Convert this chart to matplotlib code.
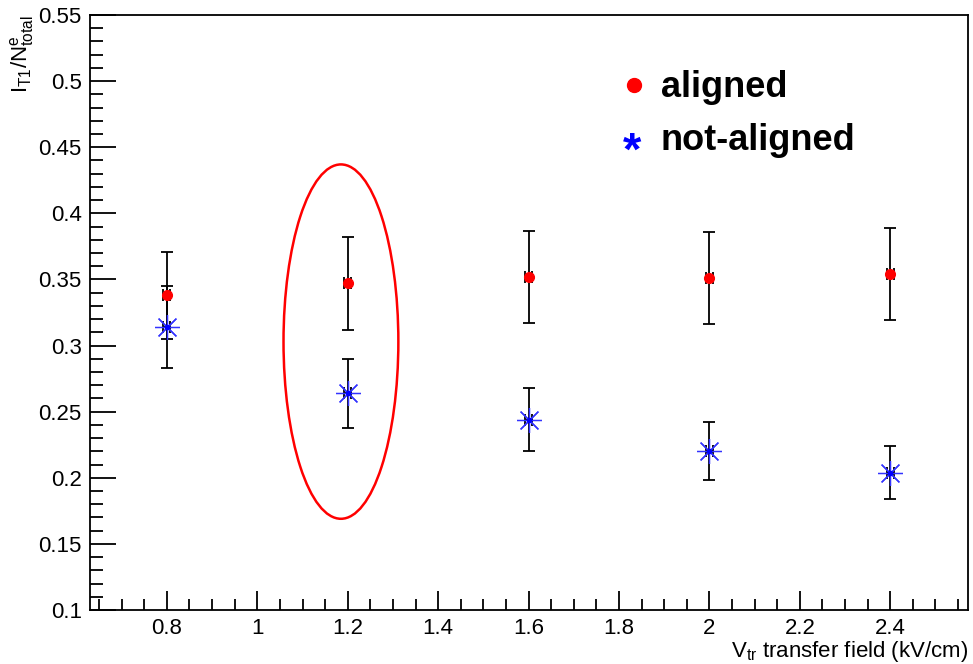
import matplotlib
matplotlib.use('Agg')
import matplotlib.pyplot as plt
import matplotlib.patches as patches
from matplotlib.ticker import MultipleLocator

plt.rcParams['font.family'] = ['Liberation Sans', 'DejaVu Sans']
plt.rcParams['mathtext.fontset'] = 'custom'
plt.rcParams['mathtext.rm'] = 'Liberation Sans'
plt.rcParams['mathtext.it'] = 'Liberation Sans'

# Data
field = [0.8, 1.2, 1.6, 2.0, 2.4]
aligned = [0.338, 0.347, 0.352, 0.351, 0.354]
aligned_err = [0.033, 0.035, 0.035, 0.035, 0.035]
not_aligned = [0.314, 0.264, 0.244, 0.220, 0.204]
not_aligned_err = [0.031, 0.026, 0.024, 0.022, 0.020]
field_err = [0.008] * 5

fig = plt.figure(figsize=(9.73, 6.64), dpi=100)
ax = fig.add_axes([0.0925, 0.0813, 0.9024, 0.8961])

# Error bars (black), then markers
ax.errorbar(field, aligned, yerr=aligned_err, xerr=field_err, fmt='none',
            ecolor='black', elinewidth=1.3, capsize=4, capthick=1.3, zorder=2)
ax.errorbar(field, not_aligned, yerr=not_aligned_err, xerr=field_err, fmt='none',
            ecolor='black', elinewidth=1.3, capsize=4, capthick=1.3, zorder=2)
ax.plot(field, aligned, 'o', color='red', markersize=7, zorder=3)
ax.plot(field, not_aligned, marker=(8, 2, 0), linestyle='none', color='#3333ff',
        markersize=18, markeredgewidth=0.9, zorder=3)
ax.plot(field, not_aligned, 'o', color='blue', markersize=3, zorder=4)

# Red ellipse highlighting the 1.2 kV/cm point
ell = patches.Ellipse((1.185, 0.303), 0.254, 0.268, fill=False,
                      edgecolor='red', linewidth=1.8, zorder=5)
ax.add_patch(ell)

ax.set_xlim(0.63, 2.572)
ax.set_ylim(0.1, 0.55)

ax.xaxis.set_major_locator(MultipleLocator(0.2))
ax.xaxis.set_minor_locator(MultipleLocator(0.05))
ax.yaxis.set_major_locator(MultipleLocator(0.05))
ax.yaxis.set_minor_locator(MultipleLocator(0.01))

def fmt(v, pos):
    return ('%.2f' % v).rstrip('0').rstrip('.')

ax.xaxis.set_major_formatter(plt.FuncFormatter(fmt))
ax.yaxis.set_major_formatter(plt.FuncFormatter(fmt))

ax.tick_params(axis='x', which='major', direction='in', length=14, width=1.3,
               labelsize=16, pad=6)
ax.tick_params(axis='x', which='minor', direction='in', length=8, width=1.3)
ax.tick_params(axis='y', which='major', direction='in', length=19, width=1.3,
               labelsize=16, pad=6)
ax.tick_params(axis='y', which='minor', direction='in', length=9.5, width=1.3)
for sp in ax.spines.values():
    sp.set_linewidth(1.3)

ax.set_xlabel(r'V$_{\mathrm{tr}}$ transfer field (kV/cm)', fontsize=16, loc='right',
              labelpad=0)
ax.set_ylabel(r'I$_{\mathrm{T1}}$/N$^{\mathrm{e}}_{\mathrm{total}}$', fontsize=16,
              loc='top', labelpad=2)

# Legend as text
ax.plot([0.619], [0.882], 'o', color='red', markersize=10, transform=ax.transAxes,
        clip_on=False)
ax.text(0.65, 0.862, 'aligned', transform=ax.transAxes, fontsize=26,
        fontweight='bold', va='baseline', ha='left')
ax.text(0.617, 0.748, '*', transform=ax.transAxes, fontsize=34, color='blue',
        fontweight='bold', va='baseline', ha='center')
ax.text(0.65, 0.773, 'not-aligned', transform=ax.transAxes, fontsize=26,
        fontweight='bold', va='baseline', ha='left')

fig.savefig('out.png', dpi=100)
